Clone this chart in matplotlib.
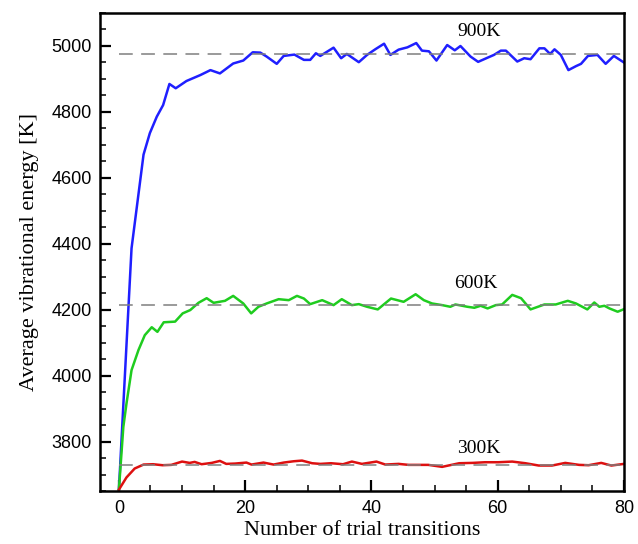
import matplotlib
matplotlib.use("Agg")
import matplotlib.pyplot as plt
from matplotlib.ticker import MultipleLocator

# Average vibrational energy vs. number of trial transitions
x_900 = [0, 2.0, 3.9, 4.9, 6.0, 7.0, 8.0, 9.0, 10.7, 12.9, 14.5, 16.0, 18.1, 19.7,
         21.2, 22.4, 23.4, 25.0, 26.1, 27.8, 29.3, 30.3, 31.2, 31.9, 34.0, 35.2,
         36.1, 38.0, 39.3, 40.6, 42.0, 43.0, 44.3, 45.7, 47.1, 48.0, 49.1, 50.3,
         52.0, 53.2, 54.1, 55.7, 56.9, 58.2, 59.4, 60.5, 61.3, 63.1, 64.2, 65.2,
         66.6, 67.4, 68.3, 69.0, 70.0, 71.2, 72.4, 73.2, 74.3, 75.8, 77.1, 78.4, 80.0]
e_900 = [3655, 4386, 4670, 4735, 4785, 4820, 4884, 4871, 4893, 4911, 4926, 4916, 4946, 4955,
         4980, 4979, 4967, 4945, 4969, 4973, 4957, 4957, 4977, 4969, 4994, 4962,
         4975, 4950, 4972, 4989, 5006, 4972, 4988, 4995, 5008, 4985, 4983, 4955,
         5002, 4986, 4999, 4967, 4951, 4962, 4972, 4985, 4985, 4952, 4962, 4959,
         4992, 4992, 4975, 4989, 4972, 4926, 4938, 4945, 4969, 4972, 4945, 4969, 4949]

x_600 = [0, 0.7, 1.2, 2.0, 3.1, 4.1, 5.2, 6.1, 7.1, 8.9, 10.1, 11.3, 12.6, 13.9, 15.0,
         16.8, 18.1, 19.7, 20.95, 22.1, 23.4, 25.3, 26.9, 28.2, 29.3, 30.3, 32.2,
         34.0, 35.3, 36.9, 38.0, 39.3, 41.0, 43.1, 45.1, 47.0, 48.3, 49.6, 51.2,
         52.5, 53.3, 55.2, 56.3, 57.3, 58.4, 59.7, 60.7, 62.3, 63.7, 65.2, 67.4,
         69.2, 71.1, 72.4, 74.2, 75.3, 76.1, 76.9, 77.7, 79.0, 79.9]
e_600 = [3655, 3845, 3916, 4017, 4078, 4123, 4147, 4133, 4162, 4164, 4189, 4199, 4221, 4235, 4221,
         4227, 4242, 4219, 4189, 4209, 4219, 4232, 4229, 4242, 4234, 4217, 4229,
         4214, 4232, 4214, 4217, 4209, 4201, 4234, 4224, 4247, 4229, 4219, 4214,
         4209, 4216, 4209, 4206, 4212, 4204, 4214, 4216, 4245, 4235, 4201, 4216,
         4216, 4227, 4219, 4201, 4222, 4209, 4212, 4204, 4194, 4201]

x_300 = [0, 1.2, 2.5, 3.9, 5.4, 6.9, 8.3, 10.0, 11.2, 12.0, 13.1, 14.7, 16.0, 17.0,
         18.4, 20.2, 21.0, 22.9, 24.5, 26.1, 27.7, 29.0, 30.6, 31.9, 33.6, 35.5,
         36.9, 38.5, 40.8, 42.2, 44.3, 45.9, 49.0, 51.2, 53.9, 56.0, 58.0, 60.1,
         62.3, 64.4, 66.5, 68.6, 70.7, 72.9, 74.4, 76.4, 78.0, 80.0]
e_300 = [3655, 3692, 3719, 3731, 3732, 3729, 3730, 3740, 3736, 3739, 3732, 3736, 3742, 3733,
         3734, 3737, 3731, 3737, 3731, 3737, 3741, 3743, 3735, 3733, 3735, 3732,
         3740, 3733, 3740, 3731, 3733, 3730, 3730, 3724, 3735, 3736, 3738, 3738,
         3740, 3735, 3728, 3728, 3736, 3730, 3729, 3736, 3728, 3733]

# Equilibrium energies and their labels
eq_levels = [4974, 4213, 3730]
eq_labels = ["900K", "600K", "300K"]
label_x = [57, 56.5, 57]
label_y = [5042, 4281, 3780]

serif = ["Liberation Serif", "DejaVu Serif"]
sans = ["Liberation Sans", "DejaVu Sans"]

fig = plt.figure(figsize=(6.38, 5.44), dpi=100)
ax = fig.add_axes([0.1567, 0.0969, 0.8213, 0.8798])

for lvl in eq_levels:
    ax.plot([0, 79.5], [lvl, lvl], color="#7f7f7f", lw=1.1, dashes=(9, 5.5), zorder=3)

ax.plot(x_900, e_900, color="#1f1fff", lw=1.8, zorder=2)
ax.plot(x_600, e_600, color="#1fcc1f", lw=1.8, zorder=2)
ax.plot(x_300, e_300, color="#dd1010", lw=1.8, zorder=2)

for t, lx, ly in zip(eq_labels, label_x, label_y):
    ax.text(lx, ly, t, ha="center", va="center", fontsize=14, family=serif)

ax.set_xlim(-3, 80)
ax.set_ylim(3650, 5100)
ax.xaxis.set_major_locator(MultipleLocator(20))
ax.xaxis.set_minor_locator(MultipleLocator(5))
ax.yaxis.set_major_locator(MultipleLocator(200))
ax.yaxis.set_minor_locator(MultipleLocator(50))

ax.tick_params(which="both", direction="in", top=False, right=False, width=1.6)
ax.tick_params(which="major", length=8, labelsize=13, pad=6)
ax.tick_params(which="minor", length=4.5, width=1.1)
for lab in ax.get_xticklabels() + ax.get_yticklabels():
    lab.set_family(sans)

for s in ax.spines.values():
    s.set_linewidth(1.8)

ax.set_xlabel("Number of trial transitions", fontsize=16, family=serif, labelpad=3)
ax.set_ylabel("Average vibrational energy [K]", fontsize=16, family=serif, labelpad=9)

fig.savefig("out.png", dpi=100)
